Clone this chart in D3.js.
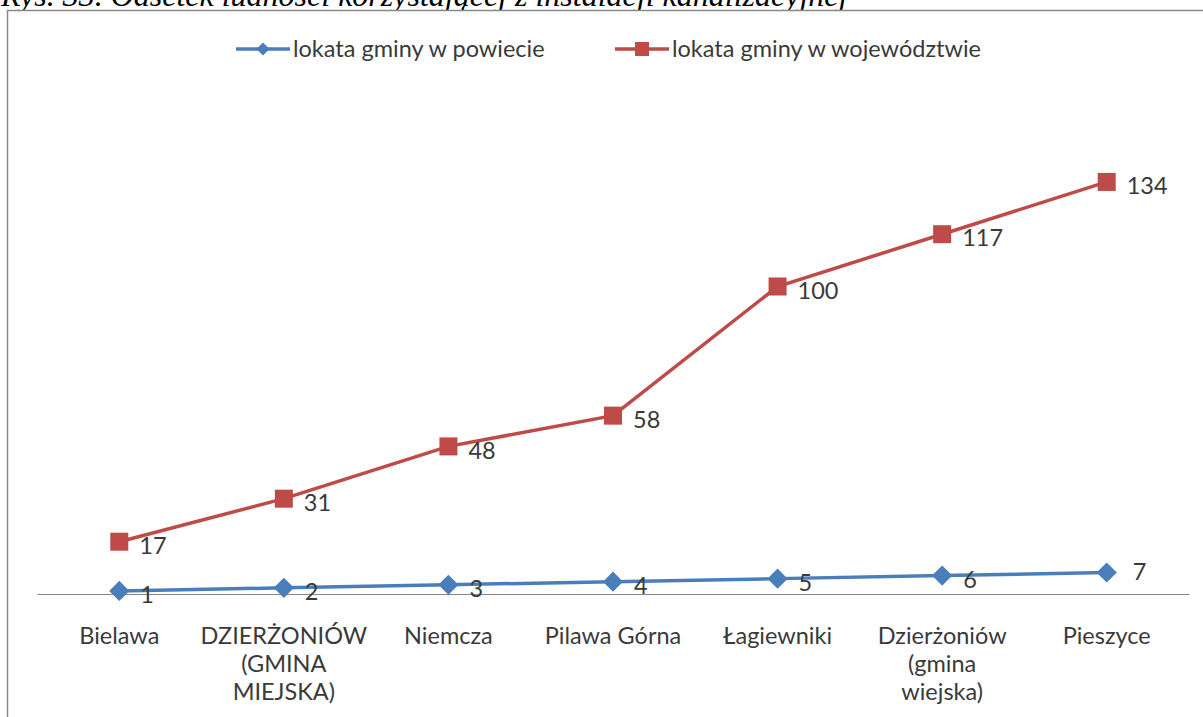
<!DOCTYPE html>
<html>
<head>
<meta charset="utf-8">
<script src="https://cdn.jsdelivr.net/npm/d3@7"></script>
<style>
  body { margin: 0; background: #fff; }
  svg { display: block; }
</style>
</head>
<body>
<div id="chart"></div>
<script>
const categories = [
    ["Bielawa"],
    ["DZIERŻONIÓW", "(GMINA", "MIEJSKA)"],
    ["Niemcza"],
    ["Pilawa Górna"],
    ["Łagiewniki"],
    ["Dzierżoniów", "(gmina", "wiejska)"],
    ["Pieszyce"]
];
const powiat = [1, 2, 3, 4, 5, 6, 7];
const wojewodztwo = [17, 31, 48, 58, 100, 117, 134];
const seriesNames = ["lokata gminy w powiecie", "lokata gminy w województwie"];

const width = 1203;
const height = 717;
const font = "Lato, Open Sans, sans-serif";
const textColor = "#3a3a3a";

const svg = d3.select("#chart")
    .append("svg")
    .attr("width", width)
    .attr("height", height);

// caption, cut off at the top like the scan
svg.append("text")
    .attr("x", 1)
    .attr("y", 6)
    .attr("font-family", "Liberation Serif, Times New Roman, serif")
    .attr("font-style", "italic")
    .attr("font-size", 32)
    .attr("fill", "#000")
    .text("Rys. 33. Odsetek ludności korzystającej z instalacji kanalizacyjnej");

// chart frame
svg.append("rect")
    .attr("x", 7.5)
    .attr("y", 10.5)
    .attr("width", 1220)
    .attr("height", 740)
    .attr("fill", "#fff")
    .attr("stroke", "#8a8a8a")
    .attr("stroke-width", 1.5);

const x = d3.scaleBand()
    .domain(d3.range(categories.length))
    .range([37, 1189]);

const y = d3.scaleLinear()
    .domain([0, 160])
    .range([594, 102]);

const cx = i => x(i) + x.bandwidth() / 2;

// baseline axis
const xAxis = svg.append("g")
    .attr("transform", `translate(0,${y(0)})`)
    .call(d3.axisBottom(x).tickSize(0).tickFormat(""));
xAxis.select(".domain").attr("stroke", "#868686").attr("stroke-width", 1);

// category labels
const catLabels = svg.selectAll(".cat")
    .data(categories)
    .join("text")
    .attr("class", "cat")
    .attr("text-anchor", "middle")
    .attr("font-family", font)
    .attr("font-size", 23.5)
    .attr("fill", textColor);
catLabels.selectAll("tspan")
    .data((d, i) => d.map(t => ({ t, i })))
    .join("tspan")
    .attr("x", d => cx(d.i))
    .attr("y", (d, j) => 644 + j * 28)
    .text(d => d.t);

const blue = "#4a7ebb";
const red = "#be4b48";

const line = d3.line()
    .x((d, i) => cx(i))
    .y(d => y(d));

// województwo series
svg.append("path")
    .datum(wojewodztwo)
    .attr("fill", "none")
    .attr("stroke", red)
    .attr("stroke-width", 3.5)
    .attr("d", line);

svg.selectAll(".sq")
    .data(wojewodztwo)
    .join("rect")
    .attr("x", (d, i) => cx(i) - 9)
    .attr("y", d => y(d) - 9)
    .attr("width", 18)
    .attr("height", 18)
    .attr("fill", red);

// powiat series
svg.append("path")
    .datum(powiat)
    .attr("fill", "none")
    .attr("stroke", blue)
    .attr("stroke-width", 3.5)
    .attr("d", line);

const diamond = d3.symbol().type(d3.symbolDiamond2).size(260);
svg.selectAll(".dm")
    .data(powiat)
    .join("path")
    .attr("transform", (d, i) => `translate(${cx(i)},${y(d)})`)
    .attr("d", diamond)
    .attr("fill", blue);

// data labels
const labelStyle = sel => sel
    .attr("font-family", font)
    .attr("font-size", 23.5)
    .attr("fill", textColor)
    .attr("dy", "0.35em");

svg.selectAll(".lw")
    .data(wojewodztwo)
    .join("text")
    .attr("x", (d, i) => cx(i) + 20)
    .attr("y", d => y(d) + 4)
    .call(labelStyle)
    .text(d => d);

svg.selectAll(".lp")
    .data(powiat)
    .join("text")
    .attr("x", (d, i) => cx(i) + 21 + (i === powiat.length - 1 ? 5 : 0))
    .attr("y", d => y(d) + (d === 7 ? -1 : 4))
    .call(labelStyle)
    .text(d => d);

// legend
const legend = [
    { name: seriesNames[0], color: blue, x: 236, marker: "diamond" },
    { name: seriesNames[1], color: red, x: 615, marker: "square" }
];
const lg = svg.selectAll(".legend")
    .data(legend)
    .join("g")
    .attr("transform", d => `translate(${d.x},49)`);
lg.append("line")
    .attr("x1", 0).attr("x2", 54)
    .attr("stroke", d => d.color)
    .attr("stroke-width", 3.5);
lg.filter(d => d.marker === "diamond").append("path")
    .attr("transform", "translate(27,0)")
    .attr("d", d3.symbol().type(d3.symbolDiamond2).size(110))
    .attr("fill", d => d.color);
lg.filter(d => d.marker === "square").append("rect")
    .attr("x", 20).attr("y", -7).attr("width", 14).attr("height", 14)
    .attr("fill", d => d.color);
lg.append("text")
    .attr("x", 57)
    .attr("dy", "0.35em")
    .attr("font-family", font)
    .attr("font-size", 23.5)
    .attr("fill", textColor)
    .text(d => d.name);
</script>
</body>
</html>
